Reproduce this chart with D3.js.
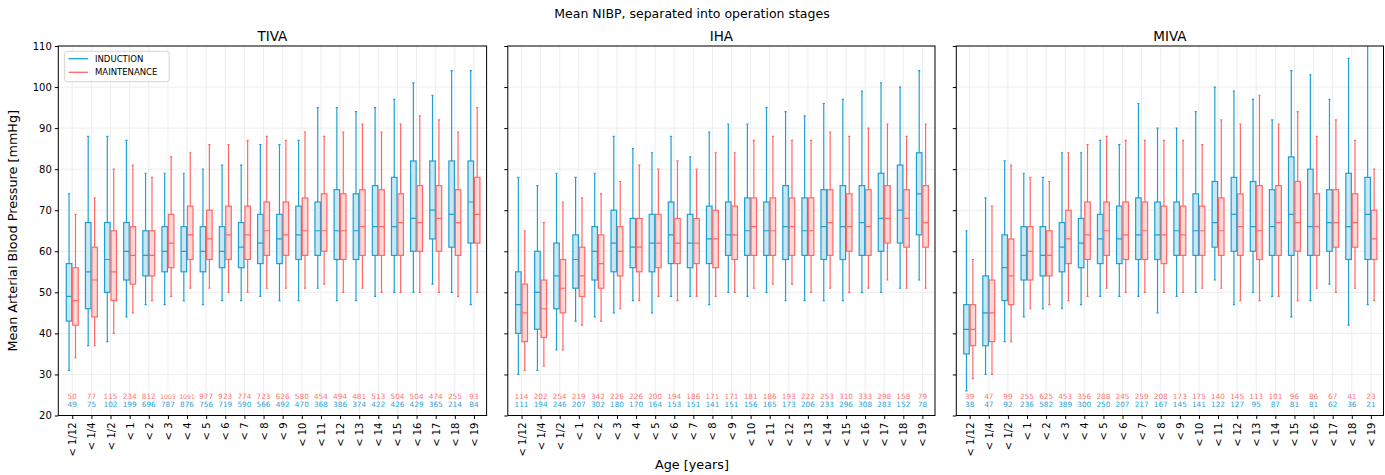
<!DOCTYPE html>
<html><head><meta charset="utf-8">
<script src="https://cdn.jsdelivr.net/npm/d3@7"></script>
<style>body{margin:0;background:#fff} svg{font-family:"DejaVu Sans",sans-serif}</style>
</head><body><svg id="c" width="1385" height="475"></svg>
<script>
const categories = ["< 1/12","< 1/4","< 1/2","< 1","< 2","< 3","< 4","< 5","< 6","< 7","< 8","< 9","< 10","< 11","< 12","< 13","< 14","< 15","< 16","< 17","< 18","< 19"];
const panelNames = ["TIVA","IHA","MIVA"];
const seriesNames = ["INDUCTION","MAINTENANCE"];
const yTicks = [20,30,40,50,60,70,80,90,100,110];
// each box: [whiskerLow, q1, median, q3, whiskerHigh]
const tivaInduction = [[31,43,49,57,74],[37,46,55,67,88],[38,50,58,67,88],[44,53,60,67,87],[47,54,59,65,79],[47,55,60,66,79],[48,55,60,66,79],[47,55,60,66,80],[48,56,60,66,81],[48,56,61,67,81],[49,57,62,69,86],[48,57,63,69,86],[48,58,64,71,87],[51,59,65,72,95],[48,58,65,75,95],[48,58,65,74,94],[49,59,66,76,95],[50,59,66,78,97],[50,60,68,82,101],[52,63,70,82,98],[50,61,69,82,104],[47,62,72,82,104]];
const tivaMaintenance = [[34,42,48,56,69],[37,44,53,61,73],[40,48,55,65,80],[45,52,59,66,81],[48,54,59,65,78],[49,56,62,69,83],[51,58,64,71,84],[51,58,63,70,86],[50,58,64,71,86],[50,58,64,71,87],[51,59,65,72,88],[51,59,64,72,87],[51,59,65,73,89],[52,60,65,74,88],[50,58,65,74,89],[51,59,66,75,91],[50,59,66,75,89],[50,59,67,74,91],[50,60,67,76,93],[50,60,68,76,92],[49,59,67,75,89],[50,62,69,78,95]];
const ihaInduction = [[30,40,47,55,78],[31,41,50,60,76],[36,46,54,62,79],[43,51,58,64,78],[44,53,60,66,79],[45,55,62,70,88],[48,56,61,68,85],[45,55,62,69,84],[49,57,64,72,88],[49,56,62,69,83],[47,57,63,71,89],[50,59,64,72,91],[49,59,65,73,91],[50,59,65,72,95],[48,58,66,76,94],[48,59,65,73,93],[48,58,66,75,96],[48,58,66,76,97],[50,59,67,76,99],[50,60,68,79,101],[51,62,70,81,100],[53,64,74,84,104]];
const ihaMaintenance = [[31,38,45,52,65],[32,39,46,53,67],[36,45,51,58,72],[42,49,54,61,73],[43,51,57,64,74],[46,54,60,66,77],[48,55,61,68,81],[49,56,62,69,80],[48,57,62,68,82],[49,57,62,68,80],[49,56,63,70,84],[50,58,64,71,84],[51,59,66,73,87],[52,59,65,73,88],[52,59,66,73,87],[50,59,65,73,87],[51,59,67,75,89],[50,60,66,74,88],[51,59,66,75,90],[53,62,68,76,91],[51,61,68,75,88],[51,61,67,76,91]];
const mivaInduction = [[26,35,41,47,65],[30,37,45,54,73],[38,48,56,64,82],[44,53,59,66,79],[46,54,59,66,78],[46,55,61,67,84],[47,56,62,68,84],[49,57,63,69,87],[49,57,63,71,86],[49,58,64,73,96],[45,58,64,72,90],[49,59,65,72,90],[50,59,65,74,94],[53,61,67,77,100],[47,60,69,78,99],[50,60,66,77,97],[49,59,66,75,92],[44,59,69,83,104],[48,59,66,80,103],[52,60,67,75,97],[42,58,66,79,107],[47,58,69,78,113]];
const mivaMaintenance = [[29,37,41,47,58],[30,38,45,53,71],[38,47,54,63,81],[46,53,60,66,78],[47,54,59,65,77],[48,57,63,70,84],[49,58,64,72,86],[51,59,65,72,88],[50,58,64,72,87],[50,58,65,72,87],[50,57,64,71,87],[50,59,64,71,87],[51,59,65,71,86],[51,59,65,73,92],[48,59,66,74,91],[48,58,65,76,98],[49,59,67,76,91],[48,60,67,77,94],[51,59,66,74,88],[50,61,67,75,92],[51,61,67,74,87],[48,58,63,70,80]];
const tivaCountInd = [49,75,102,199,696,787,876,756,719,590,566,492,470,368,386,374,422,426,429,365,214,84];
const tivaCountMaint = [50,77,115,234,812,1003,1091,977,923,774,723,626,580,454,494,481,513,504,504,474,255,93];
const ihaCountInd = [111,194,246,207,302,180,170,164,153,151,141,151,156,165,173,206,233,296,308,283,152,78];
const ihaCountMaint = [114,202,254,219,342,226,226,200,194,186,171,171,181,186,193,222,253,310,333,298,158,79];
const mivaCountInd = [38,47,92,236,582,389,300,250,207,217,167,145,141,122,127,95,87,81,81,62,36,21];
const mivaCountMaint = [39,47,99,255,625,453,356,288,245,259,208,173,175,140,145,113,101,96,86,67,41,23];

const panels = [
  {name:panelNames[0], ind:tivaInduction, maint:tivaMaintenance, cInd:tivaCountInd, cMaint:tivaCountMaint},
  {name:panelNames[1], ind:ihaInduction, maint:ihaMaintenance, cInd:ihaCountInd, cMaint:ihaCountMaint},
  {name:panelNames[2], ind:mivaInduction, maint:mivaMaintenance, cInd:mivaCountInd, cMaint:mivaCountMaint}
];
const layout = [{left:58.3,right:486.6,lo:-0.73,hi:21.66},{left:507.8,right:935,lo:-0.72,hi:21.66},{left:956.3,right:1383.5,lo:-0.7,hi:21.66}];

const BLUE = "#1f9fd3", BLUE_FILL = "#c7e7f2", RED = "#ff6868", RED_FILL = "#fdd6d6";
const BLUE_TXT = "#2aa4d8", RED_TXT = "#ff7474";
const yTop = 46, yBottom = 415.5;
const svg = d3.select("#c");
const y = d3.scaleLinear().domain([20,110]).range([yBottom, yTop]);

svg.append("text").attr("x",692).attr("y",18).attr("text-anchor","middle").attr("font-size",12.5).text("Mean NIBP, separated into operation stages");
svg.append("text").attr("transform","translate(17,"+((yTop+yBottom)/2)+") rotate(-90)").attr("text-anchor","middle").attr("font-size",12.8).text("Mean Arterial Blood Pressure [mmHg]");
svg.append("text").attr("x",692).attr("y",469).attr("text-anchor","middle").attr("font-size",12.8).text("Age [years]");

panels.forEach((p,pi)=>{
  const L = layout[pi];
  const x = d3.scaleLinear().domain([L.lo,L.hi]).range([L.left,L.right]);
  const off = 0.168, bw = 0.29;
  const g = svg.append("g");
  const clipId = "clip"+pi;
  svg.append("clipPath").attr("id",clipId).append("rect").attr("x",L.left).attr("y",yTop).attr("width",L.right-L.left).attr("height",yBottom-yTop);
  const grid = g.append("g").attr("stroke","#ebebeb").attr("stroke-width",0.9);
  yTicks.forEach(t=>grid.append("line").attr("x1",L.left).attr("x2",L.right).attr("y1",y(t)).attr("y2",y(t)));
  categories.forEach((c,i)=>grid.append("line").attr("x1",x(i)).attr("x2",x(i)).attr("y1",yTop).attr("y2",yBottom));
  svg.append("text").attr("x",(L.left+L.right)/2).attr("y",41).attr("text-anchor","middle").attr("font-size",13.5).text(p.name);
  const bx = g.append("g").attr("clip-path","url(#"+clipId+")");
  [[p.ind,-off,BLUE,BLUE_FILL],[p.maint,off,RED,RED_FILL]].forEach(([data,o,col,fill])=>{
    data.forEach((d,i)=>{
      const cx = x(i+o), hw = (x(bw)-x(0))/2, cap = 1.1;
      const b = bx.append("g").attr("stroke",col).attr("stroke-width",1.2);
      b.append("line").attr("x1",cx).attr("x2",cx).attr("y1",y(d[0])).attr("y2",y(d[1]));
      b.append("line").attr("x1",cx).attr("x2",cx).attr("y1",y(d[3])).attr("y2",y(d[4]));
      b.append("line").attr("x1",cx-cap).attr("x2",cx+cap).attr("y1",y(d[0])).attr("y2",y(d[0]));
      b.append("line").attr("x1",cx-cap).attr("x2",cx+cap).attr("y1",y(d[4])).attr("y2",y(d[4]));
      b.append("rect").attr("x",cx-hw).attr("width",2*hw).attr("y",y(d[3])).attr("height",y(d[1])-y(d[3])).attr("fill",fill);
      b.append("line").attr("x1",cx-hw).attr("x2",cx+hw).attr("y1",y(d[2])).attr("y2",y(d[2]));
    });
  });
  categories.forEach((c,i)=>{
    const fsM = String(p.cMaint[i]).length>3?6.2:7.3;
    g.append("text").attr("x",x(i)).attr("y",398.6).attr("text-anchor","middle").attr("font-size",fsM).attr("fill",RED_TXT).text(p.cMaint[i]);
    const fsI = String(p.cInd[i]).length>3?6.2:7.3;
    g.append("text").attr("x",x(i)).attr("y",407).attr("text-anchor","middle").attr("font-size",fsI).attr("fill",BLUE_TXT).text(p.cInd[i]);
  });
  const yAxis = d3.axisLeft(y).tickValues(yTicks).tickSize(3.5).tickPadding(3).tickFormat(pi===0?d3.format("d"):()=>"");
  const ya = svg.append("g").attr("transform","translate("+L.left+",0)").call(yAxis);
  ya.select(".domain").remove();
  ya.selectAll("text").attr("font-size",10).attr("font-family","DejaVu Sans").attr("fill","#000");
  const xs = d3.scalePoint().domain(categories).range([x(0),x(21)]);
  const xAxis = d3.axisBottom(xs).tickSize(3.5).tickPadding(3);
  const xa = svg.append("g").attr("transform","translate(0,"+yBottom+")").call(xAxis);
  xa.select(".domain").remove();
  xa.selectAll("text").attr("font-size",10).attr("font-family","DejaVu Sans").attr("fill","#000")
    .attr("transform","rotate(-90)").attr("text-anchor","end").attr("dy","0.35em").attr("x",-7).attr("y",0);
  svg.append("rect").attr("x",L.left).attr("y",yTop).attr("width",L.right-L.left).attr("height",yBottom-yTop).attr("fill","none").attr("stroke","#000").attr("stroke-width",1);
  if(pi===0){
    const lg = svg.append("g");
    lg.append("rect").attr("x",64.7).attr("y",51.3).attr("width",104.5).attr("height",30.4).attr("rx",2.5).attr("fill","#fff").attr("fill-opacity",0.8).attr("stroke","#d0d0d0").attr("stroke-width",0.9);
    [[seriesNames[0],BLUE,58.7],[seriesNames[1],RED,72.3]].forEach(([t,col,yy])=>{
      lg.append("line").attr("x1",68.5).attr("x2",88).attr("y1",yy).attr("y2",yy).attr("stroke",col).attr("stroke-width",1.3);
      lg.append("text").attr("x",95).attr("y",yy+3).attr("font-size",8.5).text(t);
    });
  }
});
</script></body></html>
